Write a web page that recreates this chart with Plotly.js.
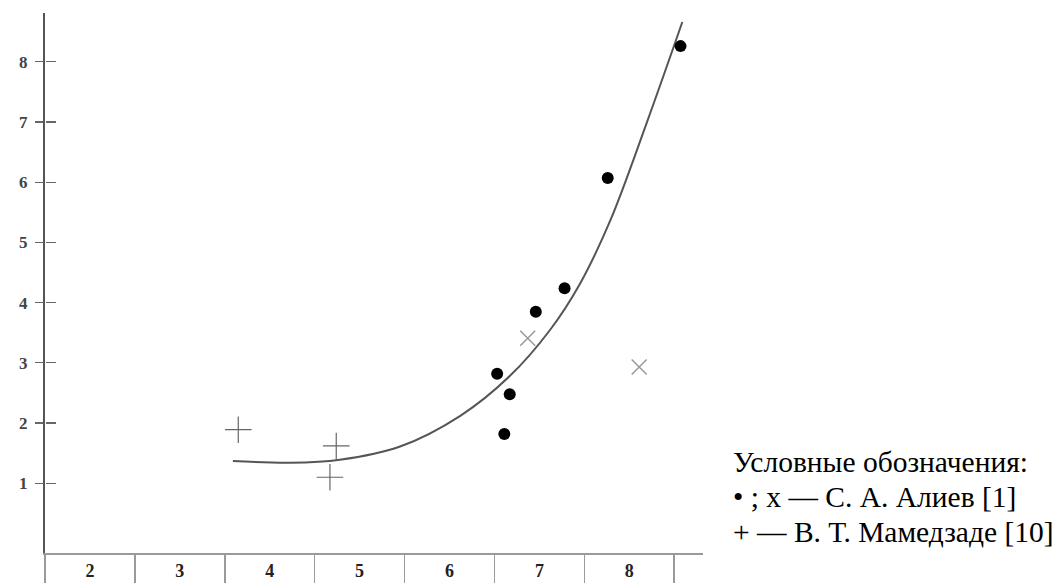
<!DOCTYPE html>
<html>
<head>
<meta charset="utf-8">
<script src="https://cdn.plot.ly/plotly-3.0.1.min.js"></script>
<style>html,body{margin:0;padding:0;background:#fff;}#chart{width:1058px;height:583px;}</style>
</head>
<body>
<div id="chart"></div>
<script>
// X categories (cell labels along the bottom)
const xTickVals = [2, 3, 4, 5, 6, 7, 8];
const xTickText = ['2', '3', '4', '5', '6', '7', '8'];
const xDividers = [1.5, 2.5, 3.5, 4.5, 5.5, 6.5, 7.5, 8.5];
const yTickVals = [1, 2, 3, 4, 5, 6, 7, 8];

// Filled dots (С. А. Алиев)
const dotX = [6.53, 6.61, 6.67, 6.96, 7.28, 7.76, 8.57];
const dotY = [2.82, 1.82, 2.48, 3.85, 4.24, 6.07, 8.26];

// Crosses "x" (С. А. Алиев)
const crossX = [6.87, 8.11];
const crossY = [3.41, 2.93];

// Plus signs (В. Т. Мамедзаде)
const plusX = [3.65, 4.67, 4.74];
const plusY = [1.89, 1.10, 1.62];

// Fitted curve
const curveX = [3.59, 4.23, 4.78, 5.45, 6.12, 6.67, 7.12, 7.45, 7.79, 8.19, 8.59];
const curveY = [1.37, 1.34, 1.39, 1.61, 2.12, 2.78, 3.55, 4.31, 5.37, 6.97, 8.66];

const legendLines = [
  'Условные обозначения:',
  '• ; x — С. А. Алиев [1]',
  '+ — В. Т. Мамедзаде [10]'
];

const traces = [
  {x: curveX, y: curveY, mode: 'lines', line: {color: '#555', width: 2, shape: 'spline', smoothing: 1}, hoverinfo: 'skip'},
  {x: dotX, y: dotY, mode: 'markers', marker: {symbol: 'circle', size: 12, color: '#000'}},
  {x: crossX, y: crossY, mode: 'markers', marker: {symbol: 'x-thin', size: 15, line: {color: '#999', width: 1.5}}},
  {x: plusX, y: plusY, mode: 'markers', marker: {symbol: 'cross-thin', size: 19, line: {color: '#666', width: 1.2}}},
  {x: [1.5], y: [1], yaxis: 'y2', mode: 'markers', marker: {opacity: 0}, hoverinfo: 'skip'}
];

const layout = {
  width: 1058, height: 583,
  margin: {l: 45, r: 355, t: 13, b: 30},
  paper_bgcolor: '#fff', plot_bgcolor: '#fff',
  showlegend: false,
  xaxis: {
    range: [1.5, 8.82], showgrid: false, zeroline: false,
    showline: true, linecolor: '#9a9a9a', linewidth: 2,
    tickmode: 'array', tickvals: xTickVals, ticktext: xTickText, ticks: '',
    ticklabelstandoff: 0,
    tickfont: {family: 'Liberation Serif', size: 18, color: '#222', weight: 'bold'},
    minor: {ticks: 'outside', tickmode: 'array', tickvals: xDividers, ticklen: 30, tickwidth: 1.5, tickcolor: '#9a9a9a', showgrid: false}
  },
  yaxis: {
    range: [-0.158, 8.81], showgrid: false, zeroline: false,
    showline: true, linecolor: '#555', linewidth: 2,
    tickmode: 'array', tickvals: yTickVals, ticks: 'outside', ticklen: 8, tickwidth: 1.2, tickcolor: '#666',
    ticklabelstandoff: 4,
    tickfont: {family: 'Liberation Serif', size: 17, color: '#444', weight: 'bold'}
  },
  yaxis2: {
    overlaying: 'y', side: 'right', anchor: 'free', position: 0,
    range: [-0.158, 8.81],
    showgrid: false, zeroline: false, showline: false, showticklabels: false,
    tickmode: 'array', tickvals: yTickVals, ticks: 'outside', ticklen: 10, tickwidth: 1.2, tickcolor: '#666'
  },
  annotations: legendLines.map((t, i) => ({
    text: t, xref: 'paper', yref: 'paper', x: 1.043, y: 0.168 - i * 0.065,
    xanchor: 'left', yanchor: 'middle', showarrow: false, align: 'left',
    font: {family: 'Liberation Serif', size: 29.5, color: '#000'}
  }))
};

Plotly.newPlot('chart', traces, layout, {staticPlot: true, displayModeBar: false});
</script>
</body>
</html>
